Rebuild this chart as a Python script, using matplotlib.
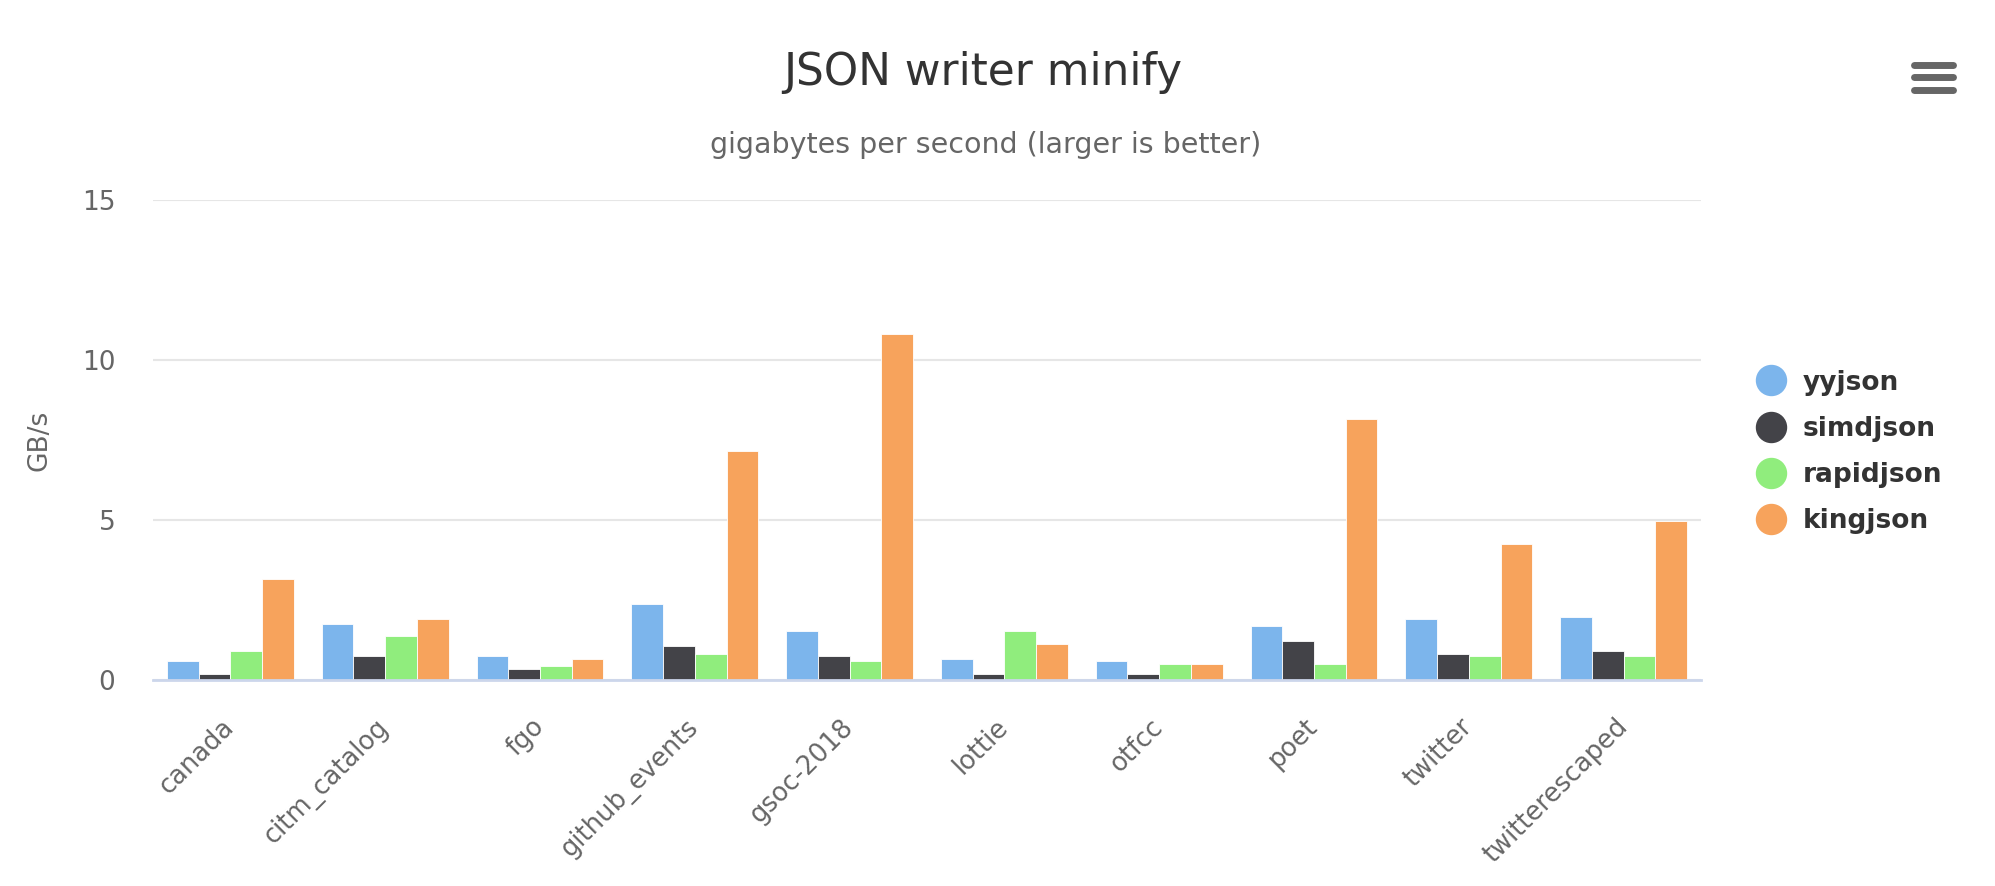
import numpy as np
import matplotlib
matplotlib.use("Agg")
import matplotlib.pyplot as plt
from matplotlib.lines import Line2D

# dados (GB/s)
arquivos = ["canada", "citm_catalog", "fgo", "github_events", "gsoc-2018",
            "lottie", "otfcc", "poet", "twitter", "twitterescaped"]
yyjson = [0.58, 1.75, 0.74, 2.38, 1.52, 0.66, 0.58, 1.69, 1.91, 1.98]
simdjson = [0.19, 0.74, 0.34, 1.05, 0.74, 0.19, 0.19, 1.21, 0.82, 0.90]
rapidjson = [0.90, 1.37, 0.43, 0.82, 0.58, 1.52, 0.50, 0.50, 0.74, 0.74]
kingjson = [3.16, 1.91, 0.66, 7.16, 10.81, 1.14, 0.50, 8.16, 4.25, 4.96]

series = ["yyjson", "simdjson", "rapidjson", "kingjson"]
cores = ["#7cb5ec", "#434348", "#90ed7d", "#f7a35c"]
valores = [yyjson, simdjson, rapidjson, kingjson]

plt.rcParams['font.family'] = ['DejaVu Sans']

fig = plt.figure(figsize=(19.95, 8.86), dpi=100)
ax = fig.add_axes([153 / 1995, 1 - 680 / 886, (1701 - 153) / 1995, (680 - 200) / 886])

x = np.arange(len(arquivos))
largura = 0.205
for i, (nome, vals, cor) in enumerate(zip(series, valores, cores)):
    ax.bar(x + (i - 1.5) * largura, vals, largura, color=cor,
           edgecolor="white", linewidth=0.6, label=nome, zorder=3)

ax.set_xlim(-0.5, len(arquivos) - 0.5)
ax.set_ylim(0, 15)
ax.set_yticks([0, 5, 10, 15])
ax.grid(axis="y", color="#e6e6e6", linewidth=1.5, zorder=0)
for lado in ["top", "right", "left"]:
    ax.spines[lado].set_visible(False)
ax.spines["bottom"].set_color("#ccd6eb")
ax.spines["bottom"].set_linewidth(2)
ax.spines["bottom"].set_zorder(4)

ax.set_xticks(x)
ax.set_xticklabels(arquivos, rotation=45, ha="right", va="center",
                   rotation_mode="anchor", fontsize=18.5, color="#666666")
ax.tick_params(axis="x", length=0, pad=31)
ax.tick_params(axis="y", length=0, pad=27, labelsize=19, labelcolor="#666666")

fig.text(40 / 1995, 1 - 440 / 886, "GB/s", rotation=90, ha="center", va="center",
         fontsize=19, color="#666666")

fig.text(0.4927, 1 - 85 / 886, "JSON writer minify", ha="center", va="baseline",
         fontsize=31.5, color="#333333")
fig.text(0.494, 1 - 153 / 886, "gigabytes per second (larger is better)",
         ha="center", va="baseline", fontsize=20.5, color="#666666")

alcas = [Line2D([], [], linestyle="none", marker="o", markersize=21.6,
                markerfacecolor=c, markeredgecolor=c) for c in cores]
leg = fig.legend(alcas, series, loc="center left",
                 bbox_to_anchor=(1758 / 1995, 1 - 452 / 886),
                 frameon=False, handlelength=1.0, handletextpad=0.7,
                 labelspacing=0.77, borderpad=0, borderaxespad=0,
                 prop={"size": 19, "weight": "bold"})
for t in leg.get_texts():
    t.set_color("#333333")

# icone de menu
for yy in [65, 77, 90]:
    fig.add_artist(Line2D([1914 / 1995, 1953 / 1995], [1 - yy / 886, 1 - yy / 886],
                          color="#666666", linewidth=5, solid_capstyle="round"))

fig.savefig("out.png", dpi=100)
